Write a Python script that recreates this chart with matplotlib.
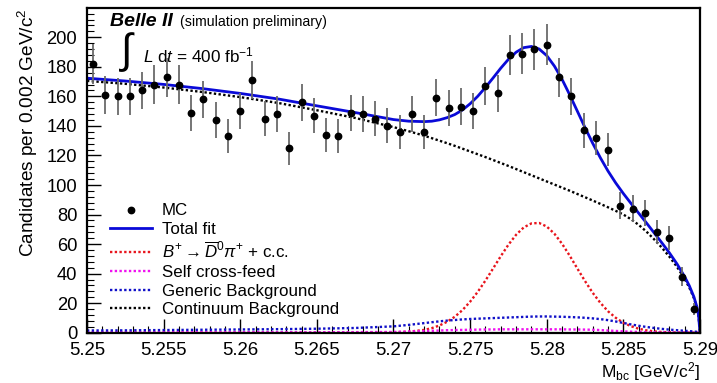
import numpy as np
import matplotlib
matplotlib.use("Agg")
import matplotlib.pyplot as plt
from matplotlib.lines import Line2D
from matplotlib.ticker import MultipleLocator, AutoMinorLocator

plt.rcParams['font.family'] = ['Liberation Sans', 'DejaVu Sans']
plt.rcParams['mathtext.fontset'] = 'custom'
plt.rcParams['mathtext.rm'] = 'Liberation Sans'
plt.rcParams['mathtext.it'] = 'Liberation Sans:italic'
plt.rcParams['mathtext.bf'] = 'Liberation Sans:bold'

# MC histogram: 50 bins over [5.25, 5.29]
bin_lo, bin_hi, n_bins = 5.25, 5.29, 50
counts = [182, 161, 160, 160, 164, 168, 173, 168, 149, 158,
          144, 133, 150, 171, 145, 148, 125, 156, 147, 134,
          133, 149, 148, 145, 140, 136, 148, 136, 159, 152,
          153, 150, 167, 162, 188, 189, 192, 195, 173, 160,
          137, 132, 124, 86, 84, 81, 68, 64, 38, 16]

# fit components
mbc = [5.2500, 5.2525, 5.2550, 5.2575, 5.2600, 5.2625, 5.2650, 5.2675, 5.2700, 5.2710,
       5.2720, 5.2725, 5.2730, 5.2735, 5.2740, 5.2745, 5.2750, 5.2755, 5.2760, 5.2765,
       5.2770, 5.2775, 5.2780, 5.2785, 5.2790, 5.2795, 5.2800, 5.2805, 5.2810, 5.2815,
       5.2820, 5.2825, 5.2830, 5.2835, 5.2840, 5.2845, 5.2850, 5.2855, 5.2860, 5.2865,
       5.2870, 5.2875, 5.2880, 5.2885, 5.2890, 5.2893, 5.2896, 5.2898, 5.2899, 5.2900]
continuum = [170.5, 168.5, 166.0, 163.0, 159.5, 155.5, 150.6, 145.4, 139.2, 136.4,
             133.4, 131.7, 130.0, 128.3, 126.5, 124.6, 122.7, 120.8, 118.9, 116.9,
             114.9, 112.9, 110.8, 108.7, 106.6, 104.5, 102.4, 100.3, 98.2, 96.1,
             93.9, 91.7, 89.5, 87.2, 84.9, 82.5, 80.0, 76.8, 73.0, 68.5,
             63.3, 57.7, 51.5, 44.6, 36.4, 30.6, 23.5, 16.8, 11.8, 0.0]
signal = [0.0, 0.0, 0.0, 0.0, 0.0, 0.0, 0.0, 0.05, 0.3, 0.7,
          1.9, 3.1, 4.9, 7.4, 10.8, 15.3, 21.0, 27.7, 35.3, 43.5,
          51.8, 59.6, 66.3, 71.3, 74.0, 74.3, 71.9, 67.0, 60.2, 52.1,
          43.4, 34.9, 27.0, 20.2, 14.5, 10.1, 6.7, 4.4, 2.7, 1.6,
          0.9, 0.5, 0.3, 0.15, 0.07, 0.04, 0.02, 0.01, 0.0, 0.0]
generic = [1.5, 1.6, 1.8, 2.0, 2.2, 2.4, 2.7, 3.2, 4.3, 5.3,
           6.5, 7.1, 7.7, 8.2, 8.6, 9.0, 9.3, 9.5, 9.7, 9.9,
           10.1, 10.3, 10.5, 10.7, 10.9, 11.0, 11.0, 10.9, 10.8, 10.6,
           10.4, 10.1, 9.7, 9.2, 8.5, 7.6, 6.6, 5.6, 4.7, 3.9,
           3.2, 2.6, 2.1, 1.7, 1.3, 1.1, 0.8, 0.6, 0.4, 0.0]
self_cf = [0.3, 0.3, 0.3, 0.3, 0.3, 0.3, 0.3, 0.4, 0.5, 0.8,
           1.1, 1.3, 1.5, 1.7, 1.8, 1.9, 2.0, 2.1, 2.2, 2.2,
           2.3, 2.3, 2.3, 2.3, 2.3, 2.3, 2.3, 2.3, 2.3, 2.2,
           2.2, 2.1, 2.0, 1.8, 1.5, 1.2, 0.9, 0.7, 0.5, 0.4,
           0.3, 0.2, 0.2, 0.1, 0.1, 0.1, 0.0, 0.0, 0.0, 0.0]

xtick_labels = ['5.25', '5.255', '5.26', '5.265', '5.27', '5.275', '5.28', '5.285', '5.29']

edges = np.linspace(bin_lo, bin_hi, n_bins + 1)
centers = 0.5 * (edges[:-1] + edges[1:])
counts = np.array(counts, dtype=float)
total = np.array(continuum) + np.array(signal) + np.array(generic) + np.array(self_cf)

fig = plt.figure(figsize=(7.17, 3.83), dpi=100)
ax = fig.add_axes([0.1213, 0.1313, 0.8550, 0.8477])

dot = (0, (1, 1))
ax.plot(mbc, signal, color='#e8141c', lw=1.7, ls=dot)
ax.plot(mbc, self_cf, color='#f010f0', lw=1.7, ls=dot)
ax.plot(mbc, generic, color='#1010c8', lw=1.7, ls=dot)
ax.plot(mbc, continuum, color='black', lw=1.7, ls=dot)
ax.plot(mbc, total, color='#0a0ad8', lw=2.0)
ax.errorbar(centers, counts, yerr=np.sqrt(counts), fmt='o', color='black',
            ms=4.6, ecolor='#6a6a6a', elinewidth=1.3, capsize=0, zorder=5)

ax.set_xlim(bin_lo, bin_hi)
ax.set_ylim(0, 219.8)
ax.set_xticks(np.linspace(bin_lo, bin_hi, len(xtick_labels)))
ax.set_xticklabels(xtick_labels)
ax.xaxis.set_minor_locator(MultipleLocator(0.001))
ax.yaxis.set_major_locator(MultipleLocator(20))
ax.yaxis.set_minor_locator(AutoMinorLocator(5))
ax.tick_params(which='both', direction='in', top=False, right=False)
ax.tick_params(axis='x', which='major', length=10, width=1, pad=6.5, labelsize=13.4)
ax.tick_params(axis='y', which='major', length=10, width=1, pad=7, labelsize=13.2)
ax.tick_params(which='minor', length=5, width=0.8)
for s in ax.spines.values():
    s.set_linewidth(1.6)

ax.set_ylabel(r'Candidates per 0.002 GeV/c$^{2}$', fontsize=13.7, loc='top')
ax.yaxis.set_label_coords(-0.077, 1.0)
ax.set_xlabel(r'M$_{\mathrm{bc}}$ [GeV/c$^{2}$]', fontsize=12.5, loc='right')
ax.xaxis.set_label_coords(1.0, -0.083)

ax.text(0.0375, 0.945, 'Belle II', fontsize=14, fontweight='bold', fontstyle='italic',
        transform=ax.transAxes, va='baseline')
ax.text(0.152, 0.945, '(simulation preliminary)', fontsize=10.2,
        transform=ax.transAxes, va='baseline')
ax.text(0.066, 0.865, r'$\int$', fontsize=30, transform=ax.transAxes, ha='center', va='center')
ax.text(0.0914, 0.834, r'$L$ d$t$ = 400 fb$^{\mathregular{-1}}$', fontsize=12.3,
        transform=ax.transAxes, va='baseline')

handles = [
    Line2D([], [], color='black', marker='o', ms=4.6, ls='none'),
    Line2D([], [], color='#0a0ad8', lw=2.0),
    Line2D([], [], color='#e8141c', lw=1.7, ls=dot),
    Line2D([], [], color='#f010f0', lw=1.7, ls=dot),
    Line2D([], [], color='#1010c8', lw=1.7, ls=dot),
    Line2D([], [], color='black', lw=1.7, ls=dot),
]
labels = ['MC', 'Total fit', r'$B^{+}\rightarrow\overline{D}^{0}\pi^{+}$ + c.c.',
          'Self cross-feed', 'Generic Background', 'Continuum Background']
ax.legend(handles, labels, loc='upper left', bbox_to_anchor=(0.0375, 0.398),
          frameon=False, fontsize=12.2, handlelength=2.5, handletextpad=0.55,
          labelspacing=0.22, borderpad=0, borderaxespad=0, numpoints=1)

fig.savefig('out.png', dpi=100)
